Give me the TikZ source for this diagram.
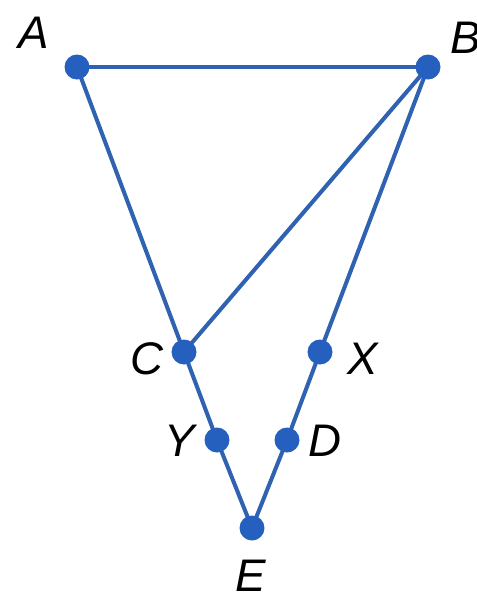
\documentclass[tikz,border=0pt]{standalone}
\usepackage{fontspec}
\setmainfont{Liberation Sans}
\definecolor{segblue}{RGB}{48,98,178}
\definecolor{dotblue}{RGB}{38,96,190}
\tikzset{
  seg/.style={line width=2.3pt, segblue, line cap=round},
  pt/.style={fill=dotblue},
  lbl/.style={font=\fontsize{26}{30}\selectfont\itshape, inner sep=0pt}
}
\begin{document}
\begin{tikzpicture}[x=0.02cm, y=-0.02cm, line join=round]
    \useasboundingbox (0,0) rectangle (477,596);
    % 顶点坐标
    \coordinate (A) at (77,67);
    \coordinate (B) at (428,67);
    \coordinate (C) at (184,352);
    \coordinate (X) at (320,352);
    \coordinate (Y) at (217,440);
    \coordinate (D) at (287,440);
    \coordinate (E) at (252,528);

    % 线段
    \draw[seg] (A) -- (B);
    \draw[seg] (A) -- (C) -- (Y) -- (E);
    \draw[seg] (B) -- (X) -- (D) -- (E);
    \draw[seg] (B) -- (C);

    % 点
    \foreach \p in {A,B,C,X,Y,D,E}
        \fill[pt] (\p) circle (12.5);

    % 标签
    \node[lbl] (lA) at (34,33) {A};
    \node[lbl] (lB) at (466,38) {B};
    \node[lbl] (lC) at (147,359) {C};
    \node[lbl] (lX) at (363,359) {X};
    \node[lbl] (lY) at (180,441) {Y};
    \node[lbl] (lD) at (325,441) {D};
    \node[lbl] (lE) at (251,576) {E};
\end{tikzpicture}
\end{document}
